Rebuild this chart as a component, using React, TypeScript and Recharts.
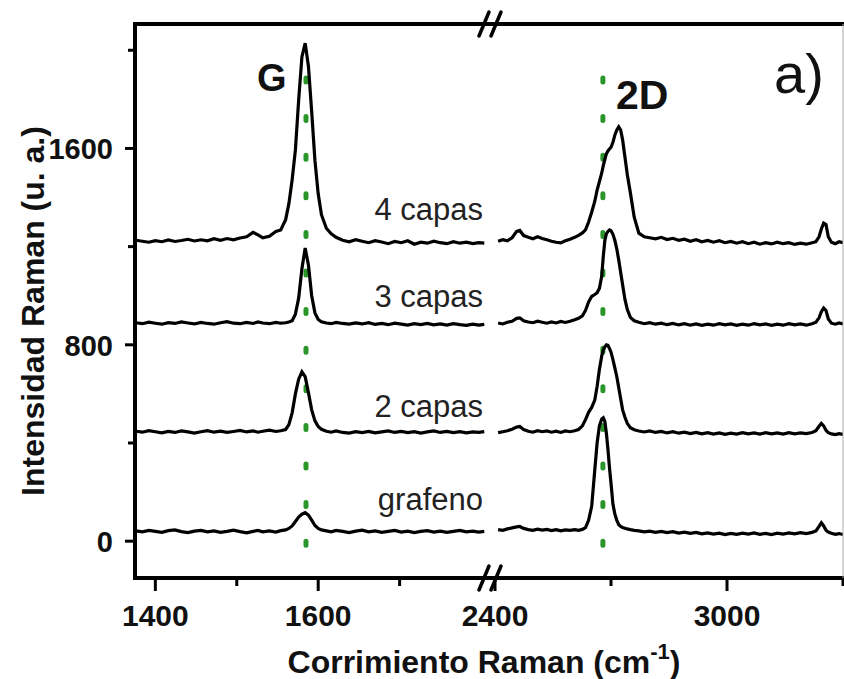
import { LineChart, Line, XAxis, YAxis, ReferenceLine, ReferenceDot } from 'recharts';

const FONT = '"Liberation Sans", Arial, sans-serif';

// G band window (cm-1)
const gShift = [
  1376, 1384, 1392, 1400, 1408, 1416, 1424, 1432, 1440, 1448,
  1456, 1464, 1472, 1480, 1488, 1496, 1504, 1512, 1520, 1526,
  1532, 1540, 1548, 1554, 1560, 1564, 1568, 1572, 1576, 1580,
  1584, 1588, 1592, 1596, 1600, 1604, 1610, 1616, 1622, 1630,
  1638, 1646, 1654, 1662, 1670, 1678, 1686, 1694, 1702, 1710,
  1718, 1726, 1734, 1742, 1750, 1758, 1766, 1774, 1782, 1790,
  1797, 1804,
];
const gCapas4 = [
  1226, 1222, 1218, 1224, 1220, 1227, 1221, 1225, 1230, 1223,
  1228, 1224, 1232, 1226, 1233, 1228, 1235, 1240, 1258, 1248,
  1236, 1242, 1262, 1268, 1310, 1375, 1472, 1594, 1797, 1973,
  2029, 1935, 1750, 1550, 1415, 1330, 1275, 1252, 1238, 1226,
  1220, 1228, 1222, 1216, 1224, 1219, 1212, 1221, 1216, 1224,
  1210, 1218, 1214, 1222, 1216, 1212, 1220, 1214, 1218, 1212,
  1216, 1214,
];
const gCapas3 = [
  890, 886, 892, 888, 884, 890, 887, 893, 889, 885,
  891, 887, 884, 890, 894, 888, 886, 891, 887, 893,
  889, 886, 891, 888, 890, 893, 898, 925, 990, 1110,
  1194, 1125, 1000, 930, 903, 894, 889, 886, 891, 887,
  884, 889, 885, 890, 883, 887, 882, 888, 884, 880,
  886, 882, 887, 881, 885, 880, 886, 882, 879, 884,
  880, 883,
];
const gCapas2 = [
  448, 444, 450, 446, 441, 447, 443, 449, 445, 440,
  446, 450, 444, 448, 443, 447, 451, 445, 449, 444,
  448, 452, 447, 450, 455, 475, 523, 600, 660, 690,
  670, 605, 535, 490, 467, 456, 448, 444, 449, 443,
  440, 446, 442, 447, 441, 445, 449, 443, 447, 442,
  446, 440, 445, 449, 443, 447, 442, 446, 441, 445,
  443, 446,
];
const gGrafeno = [
  42, 38, 44, 40, 36, 43, 46, 39, 35, 41,
  44, 38, 42, 36, 40, 45, 39, 34, 40, 44,
  38, 42, 37, 43, 46, 52, 62, 80, 98, 110,
  116, 106, 86, 64, 52, 46, 42, 38, 44, 40,
  35, 41, 45, 38, 42, 36, 40, 44, 37, 41,
  35, 40, 43, 37, 41, 36, 40, 44, 38, 41,
  37, 40,
];

// 2D band window (cm-1)
const dShift = [
  2408, 2420, 2432, 2444, 2456, 2464, 2474, 2486, 2498, 2510, 2522, 2534,
  2546, 2558, 2570, 2582, 2594, 2606, 2616, 2626, 2634, 2642, 2650, 2658,
  2664, 2670, 2676, 2680, 2684, 2688, 2692, 2696, 2700, 2705, 2710, 2715,
  2720, 2725, 2730, 2736, 2742, 2750, 2760, 2772, 2786, 2800, 2815, 2830,
  2845, 2860, 2875, 2890, 2905, 2920, 2935, 2950, 2965, 2980, 2995, 3010,
  3025, 3040, 3055, 3070, 3085, 3100, 3115, 3130, 3145, 3160, 3175, 3190,
  3205, 3220, 3230, 3238, 3244, 3250, 3256, 3262, 3270, 3280, 3290, 3300,
];
const dCapas4 = [
  1222, 1228, 1224, 1236, 1262, 1266, 1245, 1238, 1232, 1240, 1233, 1228,
  1222, 1218, 1215, 1224, 1230, 1238, 1246, 1256, 1268, 1300, 1340, 1385,
  1430, 1465, 1500, 1530, 1555, 1578, 1590, 1598, 1605, 1625, 1655, 1675,
  1688, 1675, 1635, 1565, 1495, 1420, 1320, 1255, 1240, 1236, 1232, 1238,
  1229, 1234, 1226, 1230, 1222, 1228, 1220, 1225, 1218, 1224, 1216, 1221,
  1214, 1220, 1212, 1218, 1210, 1216, 1211, 1218, 1212, 1216, 1209, 1214,
  1210, 1216, 1220, 1240, 1272, 1296, 1290, 1240, 1218, 1212, 1220, 1216,
];
const dCapas3 = [
  889, 885, 892, 896, 908, 910, 898, 893, 890, 896, 892, 888,
  893, 889, 895, 891, 896, 902, 908, 918, 940, 975, 997, 1005,
  1012, 1030, 1080, 1160, 1225, 1252, 1262, 1268, 1265, 1250, 1225, 1190,
  1145, 1095, 1045, 985, 945, 912, 898, 892, 886, 890, 884, 888,
  882, 887, 881, 886, 880, 885, 879, 884, 880, 886, 881, 885,
  879, 884, 880, 886, 881, 885, 879, 884, 880, 886, 881, 885,
  880, 886, 892, 910, 935, 950, 940, 905, 888, 884, 889, 885,
];
const dCapas2 = [
  442, 446, 450, 456, 465, 467, 455, 448, 444, 450, 446, 449,
  444, 448, 443, 449, 446, 450, 455, 470, 495, 525, 545, 575,
  630, 700, 755, 778, 792, 800, 798, 785, 770, 740, 705, 670,
  625, 580, 535, 505, 480, 462, 454, 449, 445, 449, 443, 447,
  441, 446, 440, 444, 438, 443, 437, 442, 436, 441, 435, 440,
  436, 442, 437, 441, 436, 442, 437, 441, 436, 442, 437, 441,
  438, 443, 450, 468, 480, 470, 452, 442, 437, 434, 438, 435,
];
const dGrafeno = [
  47, 44, 50, 54, 58, 60, 52, 47, 44, 49, 45, 48,
  43, 47, 42, 46, 44, 47, 44, 48, 55, 85, 142, 290,
  400, 470, 498, 503, 488, 440, 375, 300, 235, 150, 110, 85,
  67, 60, 56, 53, 50, 47, 44, 42, 38, 41, 36, 40,
  35, 39, 33, 37, 32, 36, 30, 34, 29, 33, 27, 32,
  28, 33, 29, 34, 28, 32, 27, 33, 29, 34, 30, 35,
  31, 36, 42, 60, 75, 62, 45, 37, 32, 28, 31, 27,
];

const yTicks = [0, 400, 800, 1200, 1600, 2000];
const yLabels = [0, 800, 1600];
const gTicks = [1400, 1500, 1600, 1700];
const dTicks = [2400, 2700, 3000, 3300];
const xLabels = [1400, 1600, 2400, 3000];
const gPeak = 1585;
const dPeak = 2679;
const seriesKeys = ['grafeno', 'capas2', 'capas3', 'capas4'];
const labels = ['grafeno', '2 capas', '3 capas', '4 capas'];

const Y_DOMAIN: [number, number] = [-150, 2107];
const G_DOMAIN: [number, number] = [1375, 1811];
const D_DOMAIN: [number, number] = [2387, 3300];

const leftRows = gShift.map((x, i) => ({
  x, grafeno: gGrafeno[i], capas2: gCapas2[i], capas3: gCapas3[i], capas4: gCapas4[i],
}));
const rightRows = dShift.map((x, i) => ({
  x, grafeno: dGrafeno[i], capas2: dCapas2[i], capas3: dCapas3[i], capas4: dCapas4[i],
}));

const XTick = (props: any) => {
  const { x, y, payload } = props;
  const major = xLabels.includes(payload.value);
  return (
    <g>
      <line x1={x} x2={x} y1={y} y2={y + (major ? 13 : 8)} stroke="#000" strokeWidth={3} />
      {major && (
        <text x={x} y={y + 48} textAnchor="middle" fontFamily={FONT} fontWeight="bold" fontSize={30} fill="#111">
          {payload.value}
        </text>
      )}
    </g>
  );
};

const YTick = (props: any) => {
  const { x, y, payload } = props;
  const major = yLabels.includes(payload.value);
  return (
    <g>
      <line x1={x - (major ? 10 : 7)} x2={x} y1={y} y2={y} stroke="#000" strokeWidth={3} />
      {major && (
        <text x={x - 22} y={y + 11} textAnchor="end" fontFamily={FONT} fontWeight="bold" fontSize={29} fill="#111">
          {payload.value}
        </text>
      )}
    </g>
  );
};

const BreakMark = (props: any) => {
  const { cx, cy } = props;
  return (
    <g>
      {[-6, 6].map((d) => (
        <line key={d} x1={cx + d - 5} y1={cy + 12} x2={cx + d + 5} y2={cy - 12}
          stroke="#000" strokeWidth={3.5} strokeLinecap="round" />
      ))}
    </g>
  );
};

const spectra = () =>
  seriesKeys.map((k) => (
    <Line key={k} dataKey={k} type="linear" stroke="#000" strokeWidth={3.2}
      dot={false} isAnimationActive={false} />
  ));

const frame = { stroke: '#000', strokeWidth: 4, strokeLinecap: 'square' as const };

export default function App() {
  return (
    <div style={{ position: 'absolute', left: 0, top: 0, width: 844, height: 679, background: '#fff', overflow: 'hidden' }}>
      <div style={{ position: 'absolute', left: 0, top: 0 }}>
        <LineChart width={510} height={679} data={leftRows} margin={{ top: 14, right: 20, bottom: 71, left: 75 }}>
          <XAxis dataKey="x" type="number" domain={G_DOMAIN} ticks={gTicks} allowDataOverflow
            height={30} tickSize={0} tickMargin={0} tickLine={false} axisLine={frame} tick={<XTick />} interval={0} />
          <XAxis xAxisId="top" orientation="top" dataKey="x" type="number" domain={G_DOMAIN} allowDataOverflow
            height={10} tick={false} tickLine={false} axisLine={frame} />
          <YAxis type="number" domain={Y_DOMAIN} ticks={yTicks} allowDataOverflow width={60}
            tickSize={0} tickMargin={0} tickLine={false} axisLine={frame} tick={<YTick />} interval={0} />
          <ReferenceLine segment={[{ x: gPeak, y: 1887 }, { x: gPeak, y: -20 }]} stroke="#2a962a"
            strokeWidth={5} strokeDasharray="4 34.6" strokeLinecap="round" ifOverflow="visible" />
          {spectra()}
          <ReferenceDot x={G_DOMAIN[1]} y={Y_DOMAIN[1]} r={0} ifOverflow="visible" shape={<BreakMark />} />
          <ReferenceDot x={G_DOMAIN[1]} y={Y_DOMAIN[0]} r={0} ifOverflow="visible" shape={<BreakMark />} />
        </LineChart>
      </div>
      <div style={{ position: 'absolute', left: 440, top: 0 }}>
        <LineChart width={414} height={679} data={rightRows} margin={{ top: 14, right: 1, bottom: 71, left: 50 }}>
          <XAxis dataKey="x" type="number" domain={D_DOMAIN} ticks={dTicks} allowDataOverflow
            height={30} tickSize={0} tickMargin={0} tickLine={false} axisLine={frame} tick={<XTick />} interval={0} />
          <XAxis xAxisId="top" orientation="top" dataKey="x" type="number" domain={D_DOMAIN} allowDataOverflow
            height={10} tick={false} tickLine={false} axisLine={frame} />
          <YAxis type="number" domain={Y_DOMAIN} allowDataOverflow hide />
          <YAxis yAxisId="right" orientation="right" type="number" domain={Y_DOMAIN} width={10}
            tick={false} tickLine={false} axisLine={{ stroke: '#aaa', strokeWidth: 1 }} />
          <ReferenceLine segment={[{ x: dPeak, y: 1887 }, { x: dPeak, y: -20 }]} stroke="#2a962a"
            strokeWidth={5} strokeDasharray="4 34.6" strokeLinecap="round" ifOverflow="visible" />
          {spectra()}
        </LineChart>
      </div>
      <svg width={844} height={679} style={{ position: 'absolute', left: 0, top: 0, pointerEvents: 'none' }}
        fontFamily={FONT}>
        <text x={257} y={91} fontSize={38} fontWeight="bold" fill="#111">G</text>
        <text x={616} y={109} fontSize={41} fontWeight="bold" fill="#111">2D</text>
        <text x={774} y={93} fontSize={56} fill="#111">a)</text>
        {labels.map((t, i) => (
          <text key={t} x={483} y={[510, 417, 307, 220][i]} textAnchor="end" fontSize={31} fill="#222">{t}</text>
        ))}
        <text x={484} y={673} textAnchor="middle" fontSize={32} fontWeight="bold" fill="#111">
          Corrimiento Raman (cm<tspan dy={-14} fontSize={22}>-1</tspan><tspan dy={14}>)</tspan>
        </text>
        <text x={44} y={311} textAnchor="middle" fontSize={32} fontWeight="bold" fill="#111"
          transform="rotate(-90 44 311)">Intensidad Raman (u. a.)</text>
      </svg>
    </div>
  );
}
